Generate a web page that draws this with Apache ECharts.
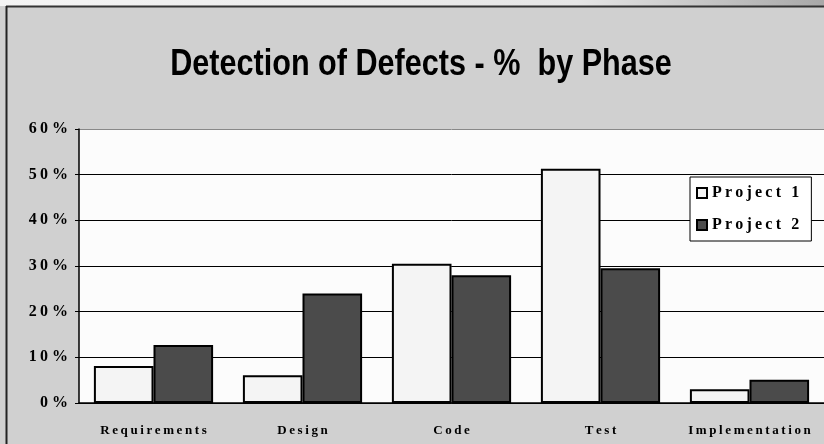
<!DOCTYPE html>
<html>
<head>
<meta charset="utf-8">
<style>
    html, body {
        margin: 0;
        padding: 0;
        background: #d0d0d0;
    }
    #chart {
        width: 824px;
        height: 444px;
    }
</style>
<script src="https://cdn.jsdelivr.net/npm/echarts@6/dist/echarts.min.js"></script>
</head>
<body>
<div id="chart"></div>
<script>
    // values
    var phases = ['Requirements', 'Design', 'Code', 'Test', 'Implementation'];
    var project1 = [0.081, 0.061, 0.305, 0.513, 0.030];
    var project2 = [0.127, 0.240, 0.280, 0.295, 0.051];
    var seriesNames = ['Project 1', 'Project 2'];
    var titleText = 'Detection of Defects - %  by Phase';

    // spread letters out like the old office chart
    function spaced(s) {
        return s.split('').join('\u2009');
    }

    var serif = '"Liberation Serif", "Times New Roman", serif';

    var chart = echarts.init(document.getElementById('chart'));
    chart.setOption({
        backgroundColor: '#d0d0d0',
        animation: false,
        graphic: [
            {
                type: 'rect',
                shape: {x: 0, y: 0, width: 824, height: 6},
                style: {
                    fill: new echarts.graphic.LinearGradient(0, 0, 1, 0, [
                        {offset: 0, color: '#f4f4f4'},
                        {offset: 0.7, color: '#e6e6e6'},
                        {offset: 1, color: '#a8a8a8'}
                    ])
                },
                silent: true
            },
            {
                type: 'line',
                shape: {x1: 6, y1: 6.5, x2: 824, y2: 6.5},
                style: {stroke: '#333', lineWidth: 2},
                silent: true
            },
            {
                type: 'line',
                shape: {x1: 6.5, y1: 6, x2: 6.5, y2: 444},
                style: {stroke: '#222', lineWidth: 2},
                silent: true
            },
            // title, squeezed a bit since there is no narrow arial here
            {
                type: 'text',
                x: 421,
                y: 65,
                scaleX: 0.85,
                silent: true,
                style: {
                    text: titleText,
                    font: 'bold 36px "Liberation Sans", Arial, sans-serif',
                    fill: '#000',
                    align: 'center',
                    verticalAlign: 'middle'
                }
            }
        ],
        legend: {
            data: seriesNames,
            orient: 'vertical',
            left: 690,
            top: 177,
            backgroundColor: '#fff',
            borderColor: '#000',
            borderWidth: 1,
            borderRadius: 0,
            padding: [8, 12, 8, 6],
            itemGap: 16,
            itemWidth: 10,
            itemHeight: 10,
            icon: 'rect',
            formatter: function (name) {
                return spaced(name);
            },
            textStyle: {
                fontFamily: serif,
                fontWeight: 'bold',
                fontSize: 16,
                color: '#000'
            }
        },
        grid: {
            left: 79,
            right: 0,
            top: 129,
            bottom: 41,
            show: true,
            backgroundColor: '#fcfcfc',
            borderWidth: 0
        },
        xAxis: {
            type: 'category',
            data: phases,
            axisLine: {lineStyle: {color: '#000', width: 1.5}},
            axisTick: {length: 4, lineStyle: {color: '#000'}},
            axisLabel: {
                interval: 0,
                margin: 21,
                formatter: function (v) {
                    return spaced(v);
                },
                fontFamily: serif,
                fontWeight: 'bold',
                fontSize: 13,
                color: '#000'
            }
        },
        yAxis: {
            type: 'value',
            min: 0,
            max: 0.6,
            interval: 0.1,
            axisLine: {show: true, lineStyle: {color: '#000', width: 1.5}},
            axisTick: {show: true, length: 4, lineStyle: {color: '#000'}},
            splitLine: {
                lineStyle: {
                    color: ['#000', '#000', '#000', '#000', '#000', '#000', '#888'],
                    width: 1
                }
            },
            axisLabel: {
                margin: 11,
                formatter: function (v) {
                    return spaced(String(Math.round(v * 100))) + ' %';
                },
                fontFamily: serif,
                fontWeight: 'bold',
                fontSize: 16,
                color: '#000'
            }
        },
        series: [
            {
                name: seriesNames[0],
                type: 'bar',
                data: project1,
                barGap: '0%',
                barCategoryGap: '20%',
                itemStyle: {color: '#f4f4f4', borderColor: '#000', borderWidth: 2}
            },
            {
                name: seriesNames[1],
                type: 'bar',
                data: project2,
                itemStyle: {color: '#4b4b4b', borderColor: '#000', borderWidth: 2}
            }
        ]
    });
</script>
</body>
</html>
